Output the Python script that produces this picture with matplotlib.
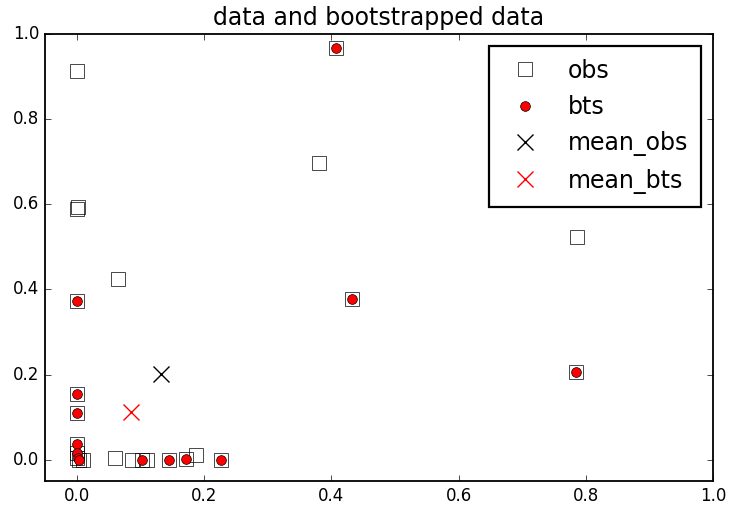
import numpy as np
import matplotlib
matplotlib.use("Agg")
import matplotlib.pyplot as plt

plt.style.use("classic")

# observed data
obs_x = [0.0, 0.0, 0.002, 0.065, 0.381, 0.408, 0.433, 0.787, 0.784,
         0.0, 0.0, 0.0, 0.0, 0.0, 0.0, 0.003, 0.009,
         0.06, 0.087, 0.103, 0.11, 0.145, 0.172, 0.187, 0.227]
obs_y = [0.913, 0.588, 0.594, 0.424, 0.696, 0.967, 0.377, 0.522, 0.207,
         0.372, 0.155, 0.109, 0.038, 0.016, 0.005, 0.0, 0.0,
         0.004, 0.0, 0.0, 0.0, 0.0, 0.001, 0.012, 0.0]

# bootstrapped sample
bts_x = [0.408, 0.433, 0.784, 0.0, 0.0, 0.0, 0.0, 0.0, 0.002, 0.004,
         0.103, 0.145, 0.172, 0.227]
bts_y = [0.967, 0.377, 0.207, 0.372, 0.155, 0.109, 0.038, 0.016, 0.003, 0.0,
         0.0, 0.0, 0.001, 0.0]

mean_obs = (0.132, 0.202)
mean_bts = (0.085, 0.111)

fig = plt.figure(figsize=(7.32, 5.07), dpi=100)
ax = fig.add_axes([0.0615, 0.0513, 0.9125, 0.8817])

ax.plot(obs_x, obs_y, "s", mfc="none", mec="k", ms=10, label="obs")
ax.plot(bts_x, bts_y, "o", mfc="r", mec="k", ms=7, label="bts")
ax.plot(mean_obs[0], mean_obs[1], "x", color="k", ms=12, mew=1, label="mean_obs")
ax.plot(mean_bts[0], mean_bts[1], "x", color="r", ms=12, mew=1, label="mean_bts")

ax.set_xlim(-0.05, 1.0)
ax.set_ylim(-0.05, 1.0)
ax.set_xticks([0.0, 0.2, 0.4, 0.6, 0.8, 1.0])
ax.set_yticks([0.0, 0.2, 0.4, 0.6, 0.8, 1.0])
for sp in ax.spines.values():
    sp.set_linewidth(1.3)
ax.set_title("data and bootstrapped data", fontsize=17, y=1.005)
leg = ax.legend(loc="upper right", numpoints=1, fontsize=17, labelspacing=0.52,
                borderpad=0.55)
leg.get_frame().set_linewidth(1.6)

fig.savefig("out.png", dpi=100)
